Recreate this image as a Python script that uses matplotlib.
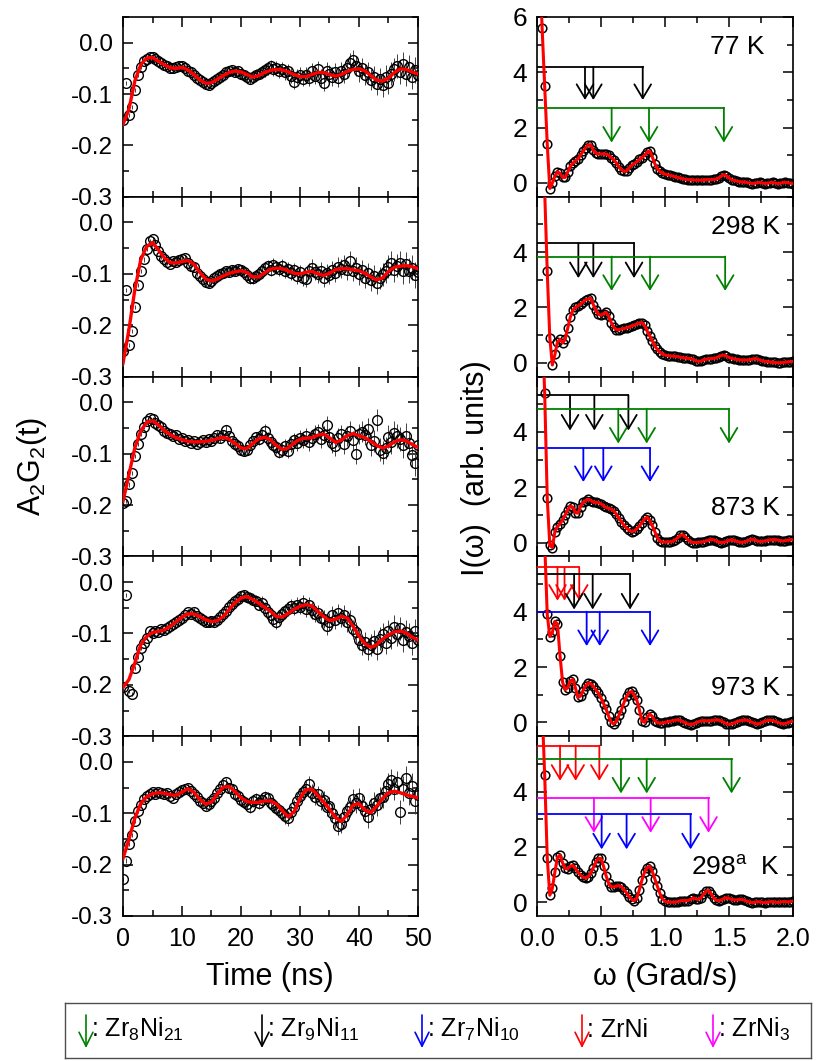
import numpy as np
import matplotlib
matplotlib.use('Agg')
import matplotlib.pyplot as plt
from matplotlib.ticker import MultipleLocator, FormatStrFormatter

plt.rcParams['font.family'] = ['Liberation Sans', 'DejaVu Sans']
plt.rcParams['mathtext.default'] = 'regular'
plt.rcParams['axes.unicode_minus'] = False

# ---- time-domain spectra A2G2(t): data every 0.5 ns, fit every 1 ns ----
t_data = np.arange(0, 50.01, 0.5)
t_fit = np.arange(0, 51, 1)

err = [0.004, 0.004, 0.004, 0.004, 0.004, 0.004, 0.004, 0.004, 0.004, 0.004,
       0.004, 0.004, 0.005, 0.005, 0.005, 0.005, 0.005, 0.005, 0.006, 0.006,
       0.006, 0.006, 0.006, 0.007, 0.007, 0.007, 0.007, 0.007, 0.008, 0.008,
       0.008, 0.008, 0.008, 0.009, 0.009, 0.009, 0.009, 0.009, 0.010, 0.010,
       0.010, 0.010, 0.010, 0.011, 0.011, 0.011, 0.011, 0.012, 0.012, 0.012,
       0.012, 0.013, 0.013, 0.013, 0.013, 0.014, 0.014, 0.014, 0.014, 0.015,
       0.015, 0.015, 0.015, 0.016, 0.016, 0.016, 0.016, 0.017, 0.017, 0.017,
       0.017, 0.018, 0.018, 0.018, 0.018, 0.019, 0.019, 0.019, 0.019, 0.020,
       0.020, 0.020, 0.020, 0.021, 0.021, 0.021, 0.021, 0.022, 0.022, 0.022,
       0.022, 0.023, 0.023, 0.023, 0.023, 0.024, 0.024, 0.024, 0.024, 0.025, 0.025]

d77 = [-0.150, -0.078, -0.141, -0.125, -0.092, -0.062, -0.048, -0.036, -0.031, -0.028,
       -0.027, -0.031, -0.035, -0.040, -0.043, -0.046, -0.050, -0.050, -0.048, -0.046,
       -0.046, -0.050, -0.055, -0.058, -0.063, -0.068, -0.073, -0.077, -0.080, -0.082,
       -0.078, -0.074, -0.070, -0.066, -0.062, -0.058, -0.055, -0.054, -0.057, -0.056,
       -0.060, -0.063, -0.066, -0.070, -0.066, -0.062, -0.060, -0.057, -0.054, -0.050,
       -0.046, -0.052, -0.049, -0.055, -0.051, -0.058, -0.056, -0.064, -0.076, -0.066,
       -0.063, -0.070, -0.062, -0.069, -0.056, -0.064, -0.052, -0.068, -0.078, -0.055,
       -0.060, -0.066, -0.058, -0.069, -0.055, -0.060, -0.050, -0.040, -0.034, -0.045,
       -0.056, -0.049, -0.062, -0.058, -0.072, -0.066, -0.080, -0.071, -0.083, -0.066,
       -0.078, -0.060, -0.052, -0.045, -0.057, -0.042, -0.060, -0.048, -0.066, -0.053, -0.062]
d298 = [-0.250, -0.132, -0.238, -0.212, -0.165, -0.121, -0.094, -0.072, -0.052, -0.036,
        -0.032, -0.044, -0.055, -0.066, -0.072, -0.077, -0.080, -0.075, -0.076, -0.073,
        -0.072, -0.070, -0.078, -0.084, -0.087, -0.098, -0.104, -0.110, -0.115, -0.118,
        -0.114, -0.108, -0.105, -0.101, -0.098, -0.095, -0.097, -0.092, -0.094, -0.090,
        -0.092, -0.097, -0.103, -0.108, -0.109, -0.104, -0.100, -0.094, -0.088, -0.085,
        -0.092, -0.083, -0.087, -0.091, -0.085, -0.094, -0.090, -0.098, -0.093, -0.104,
        -0.097, -0.108, -0.110, -0.094, -0.088, -0.096, -0.101, -0.094, -0.108, -0.098,
        -0.103, -0.092, -0.098, -0.086, -0.090, -0.083, -0.093, -0.075, -0.095, -0.088,
        -0.101, -0.093, -0.108, -0.099, -0.112, -0.104, -0.118, -0.108, -0.101, -0.095,
        -0.086, -0.079, -0.092, -0.084, -0.078, -0.095, -0.081, -0.094, -0.088, -0.102, -0.096]
d873 = [-0.196, -0.192, -0.160, -0.137, -0.105, -0.082, -0.062, -0.048, -0.036, -0.030,
        -0.032, -0.040, -0.045, -0.049, -0.056, -0.060, -0.062, -0.066, -0.064, -0.072,
        -0.070, -0.076, -0.074, -0.079, -0.076, -0.081, -0.078, -0.074, -0.078, -0.072,
        -0.075, -0.069, -0.064, -0.070, -0.063, -0.054, -0.066, -0.076, -0.082, -0.086,
        -0.092, -0.095, -0.093, -0.084, -0.076, -0.068, -0.072, -0.064, -0.055, -0.070,
        -0.078, -0.083, -0.088, -0.096, -0.093, -0.086, -0.094, -0.082, -0.074, -0.080,
        -0.069, -0.074, -0.066, -0.078, -0.070, -0.061, -0.058, -0.072, -0.063, -0.044,
        -0.068, -0.080, -0.086, -0.069, -0.062, -0.082, -0.066, -0.056, -0.074, -0.101,
        -0.062, -0.057, -0.064, -0.052, -0.083, -0.075, -0.034, -0.092, -0.098, -0.089,
        -0.067, -0.078, -0.059, -0.066, -0.072, -0.084, -0.065, -0.079, -0.102, -0.118, -0.083]
d973 = [-0.205, -0.025, -0.212, -0.218, -0.168, -0.145, -0.128, -0.118, -0.109, -0.096,
        -0.099, -0.095, -0.097, -0.092, -0.094, -0.089, -0.086, -0.081, -0.078, -0.074,
        -0.070, -0.064, -0.059, -0.062, -0.058, -0.066, -0.070, -0.074, -0.077, -0.078,
        -0.076, -0.077, -0.073, -0.068, -0.062, -0.056, -0.048, -0.043, -0.036, -0.032,
        -0.027, -0.026, -0.030, -0.031, -0.034, -0.036, -0.044, -0.040, -0.050, -0.058,
        -0.064, -0.071, -0.078, -0.068, -0.063, -0.057, -0.052, -0.046, -0.050, -0.044,
        -0.048, -0.040, -0.052, -0.045, -0.055, -0.062, -0.060, -0.070, -0.072, -0.086,
        -0.078, -0.064, -0.074, -0.060, -0.070, -0.064, -0.078, -0.074, -0.092, -0.098,
        -0.112, -0.122, -0.117, -0.130, -0.122, -0.115, -0.130, -0.110, -0.102, -0.118,
        -0.095, -0.108, -0.088, -0.101, -0.090, -0.112, -0.098, -0.104, -0.118, -0.096, -0.112]
d298a = [-0.228, -0.192, -0.160, -0.142, -0.115, -0.096, -0.084, -0.072, -0.066, -0.063,
         -0.058, -0.062, -0.058, -0.060, -0.063, -0.060, -0.066, -0.070, -0.062, -0.058,
         -0.055, -0.052, -0.050, -0.056, -0.063, -0.069, -0.076, -0.080, -0.085, -0.082,
         -0.076, -0.070, -0.060, -0.052, -0.045, -0.040, -0.050, -0.053, -0.062, -0.066,
         -0.074, -0.078, -0.082, -0.088, -0.076, -0.072, -0.080, -0.074, -0.068, -0.071,
         -0.080, -0.084, -0.090, -0.093, -0.100, -0.106, -0.110, -0.098, -0.088, -0.076,
         -0.066, -0.058, -0.052, -0.044, -0.060, -0.068, -0.062, -0.076, -0.074, -0.088,
         -0.086, -0.099, -0.110, -0.124, -0.120, -0.108, -0.096, -0.088, -0.072, -0.080,
         -0.070, -0.085, -0.096, -0.108, -0.092, -0.080, -0.084, -0.070, -0.068, -0.056,
         -0.043, -0.036, -0.052, -0.040, -0.098, -0.052, -0.032, -0.060, -0.046, -0.076, -0.064]

f77 = [-0.159, -0.130, -0.075, -0.043, -0.030, -0.029, -0.036, -0.043, -0.049, -0.050,
       -0.048, -0.053, -0.062, -0.072, -0.079, -0.078, -0.071, -0.064, -0.058, -0.055,
       -0.057, -0.062, -0.067, -0.064, -0.058, -0.054, -0.052, -0.053, -0.057, -0.062,
       -0.066, -0.066, -0.062, -0.058, -0.058, -0.062, -0.065, -0.062, -0.056, -0.052,
       -0.051, -0.055, -0.064, -0.073, -0.075, -0.069, -0.058, -0.051, -0.052, -0.057, -0.061]
f298 = [-0.274, -0.209, -0.131, -0.073, -0.047, -0.039, -0.053, -0.069, -0.078, -0.079,
        -0.076, -0.074, -0.081, -0.097, -0.110, -0.114, -0.110, -0.104, -0.099, -0.096,
        -0.094, -0.097, -0.106, -0.106, -0.098, -0.091, -0.089, -0.090, -0.094, -0.099,
        -0.100, -0.097, -0.095, -0.100, -0.103, -0.099, -0.092, -0.090, -0.090, -0.092,
        -0.094, -0.099, -0.106, -0.112, -0.108, -0.095, -0.087, -0.085, -0.084, -0.086, -0.090]
f873 = [-0.193, -0.141, -0.089, -0.056, -0.039, -0.036, -0.044, -0.055, -0.063, -0.069,
        -0.073, -0.076, -0.077, -0.077, -0.076, -0.074, -0.071, -0.068, -0.072, -0.080,
        -0.089, -0.090, -0.080, -0.071, -0.068, -0.073, -0.084, -0.092, -0.089, -0.079,
        -0.072, -0.070, -0.069, -0.064, -0.062, -0.069, -0.078, -0.074, -0.065, -0.061,
        -0.065, -0.069, -0.076, -0.084, -0.089, -0.085, -0.077, -0.073, -0.075, -0.082, -0.088]
f973 = [-0.205, -0.190, -0.158, -0.122, -0.106, -0.098, -0.096, -0.093, -0.086, -0.077,
        -0.068, -0.062, -0.062, -0.067, -0.073, -0.077, -0.075, -0.067, -0.053, -0.040,
        -0.031, -0.028, -0.034, -0.041, -0.049, -0.057, -0.067, -0.068, -0.061, -0.053,
        -0.047, -0.044, -0.046, -0.057, -0.067, -0.075, -0.072, -0.067, -0.070, -0.086,
        -0.105, -0.120, -0.127, -0.122, -0.111, -0.103, -0.097, -0.095, -0.099, -0.107, -0.113]
f298a = [-0.188, -0.151, -0.110, -0.081, -0.068, -0.062, -0.060, -0.061, -0.064, -0.065,
         -0.059, -0.052, -0.059, -0.073, -0.082, -0.078, -0.062, -0.049, -0.048, -0.058,
         -0.070, -0.077, -0.079, -0.079, -0.076, -0.076, -0.082, -0.095, -0.107, -0.097,
         -0.071, -0.054, -0.053, -0.065, -0.078, -0.092, -0.108, -0.116, -0.103, -0.084,
         -0.081, -0.094, -0.099, -0.086, -0.071, -0.060, -0.057, -0.060, -0.064, -0.067, -0.070]

# ---- Fourier spectra I(w), every 0.02 Grad/s ----
w = np.round(np.arange(0, 2.001, 0.02), 2)

s77 = [10.5, 8.0, 5.6, 3.5, 1.4, -0.2, 0.0, 0.25, 0.4, 0.35,
       0.2, 0.2, 0.4, 0.6, 0.72, 0.8, 0.88, 1.0, 1.14, 1.28,
       1.38, 1.38, 1.18, 1.08, 1.05, 1.05, 1.05, 1.04, 1.0, 0.92,
       0.84, 0.72, 0.58, 0.48, 0.42, 0.44, 0.55, 0.64, 0.7, 0.77,
       0.85, 0.92, 1.0, 1.12, 1.16, 0.95, 0.7, 0.52, 0.42, 0.36,
       0.32, 0.3, 0.28, 0.25, 0.22, 0.2, 0.18, 0.15, 0.13, 0.12,
       0.12, 0.11, 0.1, 0.1, 0.1, 0.11, 0.12, 0.12, 0.12, 0.13,
       0.14, 0.18, 0.25, 0.3, 0.26, 0.18, 0.12, 0.09, 0.07, 0.05,
       0.04, 0.03, 0.02, 0.0, -0.02, -0.01, 0.01, 0.02, 0.0, -0.02,
       -0.01, 0.01, 0.02, 0.0, -0.02, -0.01, 0.01, 0.02, 0.01, -0.01, -0.02]
s298 = [14.0, 11.5, 8.9, 6.2, 3.3, 0.9, -0.08, 0.3, 0.75, 0.85,
        0.72, 0.85, 1.25, 1.65, 1.9, 2.0, 2.05, 2.12, 2.2, 2.28,
        2.3, 2.33, 2.1, 1.9, 1.75, 1.72, 1.78, 1.82, 1.68, 1.45,
        1.28, 1.2, 1.2, 1.22, 1.24, 1.26, 1.3, 1.33, 1.36, 1.4,
        1.44, 1.45, 1.35, 1.15, 0.98, 0.8, 0.62, 0.48, 0.38, 0.32,
        0.28, 0.26, 0.25, 0.24, 0.23, 0.22, 0.2, 0.18, 0.17, 0.16,
        0.15, 0.12, 0.08, 0.05, 0.06, 0.1, 0.13, 0.14, 0.15, 0.16,
        0.18, 0.22, 0.26, 0.28, 0.24, 0.19, 0.16, 0.14, 0.12, 0.11,
        0.1, 0.1, 0.1, 0.11, 0.13, 0.15, 0.14, 0.1, 0.07, 0.05,
        0.04, 0.03, 0.02, 0.01, 0.0, 0.0, 0.01, 0.02, 0.03, 0.04, 0.05]
s873 = [13.0, 10.5, 8.0, 5.4, 1.6, -0.1, -0.18, 0.4, 0.58, 0.68,
        0.82, 1.0, 1.18, 1.32, 1.28, 1.08, 1.06, 1.3, 1.45, 1.52,
        1.57, 1.52, 1.46, 1.45, 1.44, 1.4, 1.33, 1.27, 1.24, 1.2,
        1.15, 1.02, 0.88, 0.75, 0.62, 0.52, 0.45, 0.4, 0.42, 0.5,
        0.6, 0.72, 0.85, 0.92, 0.8, 0.62, 0.4, 0.18, 0.06, 0.02,
        0.02, 0.03, 0.03, 0.05, 0.1, 0.18, 0.26, 0.28, 0.2, 0.1,
        0.03, 0.0, 0.0, 0.01, 0.02, 0.03, 0.06, 0.09, 0.11, 0.1,
        0.06, 0.02, 0.0, 0.01, 0.04, 0.08, 0.1, 0.08, 0.04, 0.02,
        0.01, 0.02, 0.06, 0.1, 0.12, 0.1, 0.06, 0.04, 0.04, 0.06,
        0.08, 0.1, 0.1, 0.1, 0.09, 0.07, 0.06, 0.07, 0.09, 0.1, 0.1]
s973 = [14.0, 11.5, 9.0, 6.5, 3.9, 3.1, 3.25, 3.65, 3.55, 2.4,
        1.45, 1.18, 1.25, 1.5, 1.55, 1.25, 0.9, 0.95, 1.15, 1.32,
        1.42, 1.4, 1.3, 1.18, 1.05, 0.88, 0.68, 0.48, 0.22, 0.0,
        -0.06, 0.05, 0.25, 0.45, 0.72, 0.94, 1.08, 1.12, 0.98, 0.8,
        0.45, 0.05, 0.0, 0.18, 0.3, 0.22, 0.06, 0.0, -0.03, -0.02,
        0.0, 0.02, 0.04, 0.06, 0.08, 0.09, 0.07, 0.03, -0.02, -0.06,
        -0.08, -0.06, -0.02, 0.02, 0.05, 0.06, 0.06, 0.05, 0.06, 0.08,
        0.09, 0.08, 0.05, 0.0, -0.05, -0.07, -0.06, -0.02, 0.02, 0.05,
        0.07, 0.08, 0.08, 0.05, 0.0, -0.04, -0.06, -0.04, 0.0, 0.04,
        0.07, 0.08, 0.07, 0.04, 0.0, -0.03, -0.05, -0.04, -0.01, 0.02, 0.04]
s298a = [12.0, 9.5, 7.0, 4.6, 1.6, 0.25, 0.5, 1.1, 1.62, 1.7,
         1.42, 1.22, 1.2, 1.3, 1.33, 1.22, 1.08, 0.98, 0.9, 0.88,
         0.92, 1.05, 1.25, 1.45, 1.58, 1.58, 1.3, 0.95, 0.68, 0.56,
         0.55, 0.58, 0.6, 0.56, 0.45, 0.33, 0.2, 0.1, 0.05, 0.15,
         0.45, 0.8, 1.08, 1.25, 1.3, 1.12, 0.85, 0.58, 0.32, 0.12,
         0.03, 0.0, 0.0, 0.0, 0.0, 0.02, 0.05, 0.06, 0.05, 0.06,
         0.1, 0.15, 0.12, 0.1, 0.15, 0.28, 0.4, 0.42, 0.3, 0.15,
         0.07, 0.05, 0.08, 0.13, 0.16, 0.14, 0.1, 0.08, 0.08, 0.1,
         0.1, 0.07, 0.03, 0.0, -0.02, 0.0, 0.02, 0.01, -0.01, -0.02,
         0.0, 0.02, 0.02, 0.0, -0.01, 0.0, 0.02, 0.02, 0.01, 0.02, 0.04]

# phase frequency markers: (phase, bar level, arrow tip, frequencies in Grad/s)
arr77 = [('Zr9Ni11', 4.2, 3.0, [0.375, 0.44, 0.826]),
         ('Zr8Ni21', 2.72, 1.46, [0.583, 0.875, 1.46])]
arr298 = [('Zr9Ni11', 4.32, 3.06, [0.323, 0.44, 0.758]),
          ('Zr8Ni21', 3.84, 2.6, [0.583, 0.883, 1.47])]
arr873 = [('Zr9Ni11', 5.33, 4.05, [0.258, 0.448, 0.714]),
          ('Zr8Ni21', 4.83, 3.58, [0.635, 0.857, 1.5]),
          ('Zr7Ni10', 3.42, 2.19, [0.362, 0.518, 0.883])]
arr973 = [('ZrNi', 5.6, 4.4, [0.16, 0.215, 0.33]),
          ('Zr9Ni11', 5.36, 4.08, [0.29, 0.435, 0.727]),
          ('Zr7Ni10', 4.0, 2.76, [0.388, 0.49, 0.883])]
arr298a = [('ZrNi', 5.66, 4.39, [0.18, 0.302, 0.487]),
           ('Zr8Ni21', 5.17, 3.93, [0.656, 0.857, 1.52]),
           ('ZrNi3', 3.77, 2.51, [0.445, 0.888, 1.34]),
           ('Zr7Ni10', 3.18, 1.91, [0.505, 0.7, 1.2])]

temps = ['77 K', '298 K', '873 K', '973 K', '298$^{a}$  K']
left_data = [d77, d298, d873, d973, d298a]
left_fits = [f77, f298, f873, f973, f298a]
right_spec = [s77, s298, s873, s973, s298a]
right_arrows = [arr77, arr298, arr873, arr973, arr298a]

phase_color = {'Zr8Ni21': '#008000', 'Zr9Ni11': 'black', 'Zr7Ni10': '#0000ff',
               'ZrNi': '#ff0000', 'ZrNi3': '#ff00ff'}
phase_label = {'Zr8Ni21': ': Zr$_8$Ni$_{21}$', 'Zr9Ni11': ': Zr$_9$Ni$_{11}$',
               'Zr7Ni10': ': Zr$_7$Ni$_{10}$', 'ZrNi': ': ZrNi', 'ZrNi3': ': ZrNi$_3$'}

# layout in pixels of the 816x1061 figure
W, H = 816.0, 1061.0
top_px, panel_px = 17.0, 179.8


def box(x0, x1, i):
    ytop = top_px + panel_px * i
    return [x0 / W, 1 - (ytop + panel_px) / H, (x1 - x0) / W, panel_px / H]


def style_ticks(ax, ysize):
    ax.tick_params(which='both', direction='in', top=True, right=True, width=1.1)
    ax.tick_params(which='major', length=7)
    ax.tick_params(which='minor', length=4)
    ax.tick_params(axis='y', labelsize=ysize, pad=7)
    ax.tick_params(axis='x', labelsize=18, pad=8)
    for s in ax.spines.values():
        s.set_linewidth(1.2)


fig = plt.figure(figsize=(W / 100, H / 100), dpi=100)
arrow_style = '->,head_length=0.5,head_width=0.3'

for i in range(5):
    # left: time spectra
    ax = fig.add_axes(box(123, 418, i))
    ax.errorbar(t_data, left_data[i], yerr=err, fmt='o', ms=7, mfc='none', mec='k',
                mew=1.0, ecolor='0.25', elinewidth=0.7, capsize=0, zorder=2)
    ax.plot(t_fit, left_fits[i], color='red', lw=2.4, zorder=3)
    ax.set_xlim(0, 50)
    ax.set_ylim(-0.3, 0.05)
    ax.set_yticks([-0.3, -0.2, -0.1, 0.0])
    ax.set_yticklabels(['-0.3', '-0.2', '-0.1', '0.0'])
    ax.yaxis.set_minor_locator(MultipleLocator(0.05))
    ax.xaxis.set_major_locator(MultipleLocator(10))
    ax.xaxis.set_minor_locator(MultipleLocator(5))
    style_ticks(ax, 17.5)
    if i < 4:
        ax.set_xticklabels([])

    # right: Fourier spectra
    axr = fig.add_axes(box(537, 793, i))
    axr.plot(w, right_spec[i], 'o', ms=6.2, mfc='none', mec='k', mew=1.1, zorder=2)
    axr.plot(w, right_spec[i], color='red', lw=2.2, zorder=4)
    for phase, level, tip, freqs in right_arrows[i]:
        c = phase_color[phase]
        axr.plot([0, max(freqs)], [level, level], color=c, lw=1.3, zorder=3)
        for f in freqs:
            axr.annotate('', xy=(f, tip), xytext=(f, level),
                         arrowprops=dict(arrowstyle=arrow_style, color=c, lw=1.3,
                                         shrinkA=0, shrinkB=0, mutation_scale=20),
                         zorder=3)
    axr.set_xlim(0, 2.0)
    axr.set_ylim(-0.5, 6.0)
    axr.set_yticks([0, 2, 4, 6] if i == 0 else [0, 2, 4])
    axr.yaxis.set_minor_locator(MultipleLocator(1))
    axr.xaxis.set_major_locator(MultipleLocator(0.5))
    axr.xaxis.set_minor_locator(MultipleLocator(0.25))
    axr.xaxis.set_major_formatter(FormatStrFormatter('%.1f'))
    style_ticks(axr, 19)
    if i < 4:
        axr.set_xticklabels([])
    if i == 0:
        axr.text(0.89, 0.833, temps[i], transform=axr.transAxes, ha='right',
                 va='center', fontsize=19)
    elif i == 1:
        axr.text(0.95, 0.83, temps[i], transform=axr.transAxes, ha='right',
                 va='center', fontsize=19)
    else:
        axr.text(0.95, 0.27, temps[i], transform=axr.transAxes, ha='right',
                 va='center', fontsize=19)

fig.text(32 / W, 1 - 466 / H, 'A$_2$G$_2$(t)', rotation=90, ha='center',
         va='center', fontsize=22)
fig.text(476 / W, 1 - 468 / H, 'I(ω)  (arb. units)', rotation=90, ha='center',
         va='center', fontsize=22)
fig.text(270 / W, 1 - 977 / H, 'Time (ns)', ha='center', va='center', fontsize=22)
fig.text(665 / W, 1 - 977 / H, 'ω (Grad/s)', ha='center', va='center', fontsize=22)

# legend box
axl = fig.add_axes([65 / W, 1 - 1058 / H, 746 / W, 55 / H])
axl.set_xlim(65, 811)
axl.set_ylim(1058, 1003)
axl.set_xticks([])
axl.set_yticks([])
for s in axl.spines.values():
    s.set_linewidth(1.0)
    s.set_color('0.3')
leg_x = {'Zr8Ni21': 86, 'Zr9Ni11': 262, 'Zr7Ni10': 422, 'ZrNi': 582, 'ZrNi3': 713}
for phase, x in leg_x.items():
    c = phase_color[phase]
    axl.annotate('', xy=(x, 1048), xytext=(x, 1015),
                 arrowprops=dict(arrowstyle='->,head_length=0.5,head_width=0.25',
                                 color=c, lw=1.2, shrinkA=0, shrinkB=0,
                                 mutation_scale=20))
    axl.text(x + 5, 1037, phase_label[phase], ha='left', va='baseline', fontsize=18)

fig.savefig('out.png', dpi=100)
